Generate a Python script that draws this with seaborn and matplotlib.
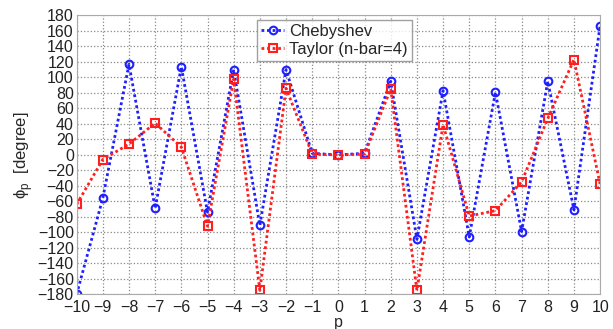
import matplotlib
matplotlib.use("Agg")
import matplotlib.pyplot as plt
import numpy as np
import pandas as pd
import seaborn as sns

p = list(range(-10, 11))
chebyshev = [-180, -56, 117, -69, 114, -74, 110, -91, 110, 2, 0, 2, 95, -109, 83, -106, 81, -99, 95, -71, 167]
taylor = [-64, -6, 14, 41, 10, -92, 98, -175, 86, 1, 0, 1, 85, -175, 39, -79, -72, -35, 47, 123, -38]

sns.set_style("white")
plt.rcParams['font.family'] = ['Liberation Sans', 'DejaVu Sans']

df = pd.DataFrame({"p": p + p,
                   "phi": chebyshev + taylor,
                   "series": ["Chebyshev"] * len(p) + ["Taylor (n-bar=4)"] * len(p)})

fig = plt.figure(figsize=(6.13, 3.29), dpi=100)
ax = fig.add_axes([0.125, 0.1055, 0.854, 0.8475])

styles = {"Chebyshev": ("#1f1fff", "o"), "Taylor (n-bar=4)": ("#ff1f1f", "s")}
for name, (col, mk) in styles.items():
    sub = df[df.series == name]
    sns.lineplot(data=sub, x="p", y="phi", ax=ax, color=col, marker=mk,
                 linestyle=(0, (1, 1)), linewidth=2, markersize=5.5, markerfacecolor="none",
                 markeredgecolor=col, markeredgewidth=1.5, label=name)

ax.set_xlim(-10, 10)
ax.set_ylim(-180, 180)
ax.set_xticks(range(-10, 11))
ax.set_yticks(range(-180, 181, 20))
ax.grid(True, linestyle=":", color="#888888", linewidth=0.9)
ax.tick_params(labelsize=11.5, length=0, colors="#222222")
ax.tick_params(axis="x", pad=4)
ax.tick_params(axis="y", pad=2)
for s in ax.spines.values():
    s.set_color("#aaaaaa")
ax.set_xlabel("p", fontsize=11.5, labelpad=0)
ax.set_ylabel("ϕ$_\\mathregular{p}$  [degree]", fontsize=12, labelpad=2)

leg = ax.legend(loc="upper center", bbox_to_anchor=(0.4925, 0.985), fontsize=12,
                frameon=True, fancybox=False, handlelength=1.4, borderpad=0.25,
                labelspacing=0.2, handletextpad=0.3, borderaxespad=0)
leg.get_frame().set_edgecolor("#888888")
leg.get_frame().set_linewidth(1.0)

fig.savefig("out.png", dpi=100)
